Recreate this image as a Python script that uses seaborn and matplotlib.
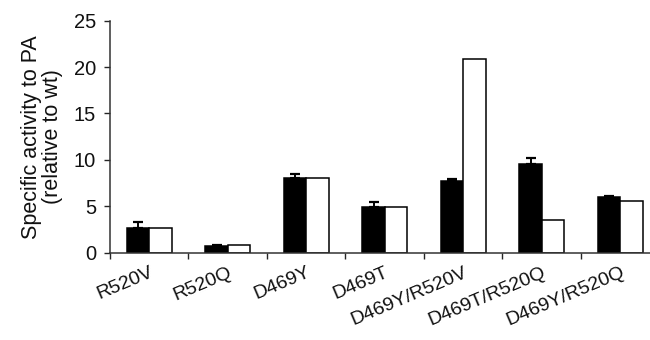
import numpy as np
import pandas as pd
import matplotlib
matplotlib.use("Agg")
import matplotlib.pyplot as plt
import seaborn as sns

categories = ["R520V", "R520Q", "D469Y", "D469T", "D469Y/R520V", "D469T/R520Q", "D469Y/R520Q"]
black_vals = [2.7, 0.72, 8.0, 4.9, 7.76, 9.6, 5.97]
black_err = [0.62, 0.1, 0.5, 0.52, 0.17, 0.55, 0.17]
white_vals = [2.7, 0.8, 8.05, 4.9, 20.9, 3.5, 5.6]
series = ["black", "white"]
yticks = [0, 5, 10, 15, 20, 25]

sns.set_style("ticks")
plt.rcParams["font.family"] = ["Liberation Sans", "DejaVu Sans"]

df = pd.DataFrame({
    "mutant": categories * 2,
    "series": [series[0]] * len(categories) + [series[1]] * len(categories),
    "value": black_vals + white_vals,
})

fig = plt.figure(figsize=(6.5, 3.4), dpi=100)
ax = fig.add_axes([0.1692, 0.2568, 0.8454, 0.6824])

sns.barplot(data=df, x="mutant", y="value", hue="series", order=categories,
            hue_order=series, palette=["black", "white"], edgecolor="black",
            linewidth=1.1, width=0.57, errorbar=None, legend=False, ax=ax)

# upward error bars on the black bars
bars = ax.containers[0]
xs = [p.get_x() + p.get_width() / 2 for p in bars]
ax.errorbar(xs, black_vals, yerr=[np.zeros(len(black_err)), black_err],
            fmt="none", ecolor="black", elinewidth=1.4, capsize=3.5, capthick=1.6, zorder=3)

ax.set_xlim(-0.5, len(categories) - 0.5)
ax.set_ylim(0, 25)
ax.set_yticks(yticks)
ax.set_yticklabels([str(t) for t in yticks], fontsize=14.5, color="#111111")

ax.set_xticks(np.arange(-0.5, len(categories), 1.0))
ax.set_xticklabels([])
ax.set_xticks(np.arange(len(categories)), minor=True)
ax.set_xticklabels(categories, minor=True, rotation=23, ha="right",
                   rotation_mode="anchor", fontsize=14, color="#111111")
ax.tick_params(axis="x", which="major", length=4, width=1, direction="out")
ax.tick_params(axis="x", which="minor", length=0, pad=8)
ax.tick_params(axis="y", length=4, width=1, pad=6)

ax.set_xlabel("")
ax.set_ylabel("Specific activity to PA\n(relative to wt)", fontsize=15.5,
              color="#111111", labelpad=8, linespacing=1.0)

for s in ["top", "right"]:
    ax.spines[s].set_visible(False)
for s in ["left", "bottom"]:
    ax.spines[s].set_linewidth(1.1)
    ax.spines[s].set_color("#333333")

fig.savefig("out.png", dpi=100)
